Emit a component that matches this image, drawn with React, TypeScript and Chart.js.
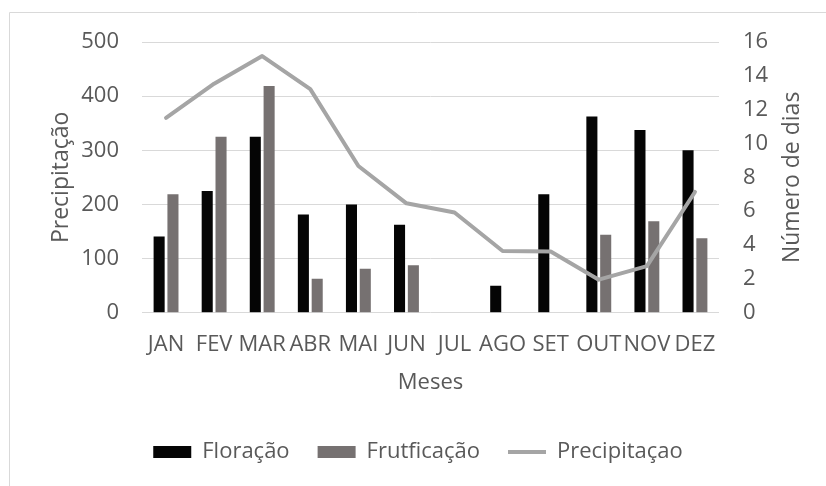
import React, { useEffect, useRef } from "react";
import { Chart, registerables } from "chart.js";

Chart.register(...registerables);

// ---- data ----
const months = ["JAN", "FEV", "MAR", "ABR", "MAI", "JUN", "JUL", "AGO", "SET", "OUT", "NOV", "DEZ"];
// número de dias (eixo direito)
const floracao = [4.5, 7.2, 10.4, 5.8, 6.4, 5.2, 0, 1.6, 7.0, 11.6, 10.8, 9.6];
const frutificacao = [7.0, 10.4, 13.4, 2.0, 2.6, 2.8, 0, 0, 0, 4.6, 5.4, 4.4];
// precipitação (eixo esquerdo)
const precipitacao = [360, 423, 474, 413, 271, 202, 185, 114, 113, 61, 86, 223];

const leftMin = 0;
const leftMax = 500;
const leftStep = 100;
const rightMin = 0;
const rightMax = 16;
const rightStep = 2;

const seriesNames = ["Floração", "Frutficação", "Precipitaçao"];
const leftTitle = "Precipitação";
const rightTitle = "Número de dias";
const xTitle = "Meses";

// ---- style ----
const FONT = "'Open Sans', sans-serif";
const TEXT = "#595959";
const GRID = "#d9d9d9";
const BLACK = "#050505";
const GRAY = "#767171";
const LINE = "#a5a5a5";

const frame = {
  id: "frame",
  beforeDraw(chart: any) {
    const ctx = chart.ctx;
    ctx.save();
    ctx.strokeStyle = GRID;
    ctx.lineWidth = 1;
    ctx.beginPath();
    ctx.moveTo(9.5, chart.height);
    ctx.lineTo(9.5, 12.5);
    ctx.lineTo(chart.width, 12.5);
    ctx.stroke();
    ctx.restore();
  },
  afterDraw(chart: any) {
    const s = chart.scales.y1;
    const ctx = chart.ctx;
    ctx.save();
    ctx.fillStyle = TEXT;
    ctx.font = `23px ${FONT}`;
    ctx.textAlign = "center";
    ctx.textBaseline = "middle";
    ctx.translate(792, (s.top + s.bottom) / 2);
    ctx.rotate(-Math.PI / 2);
    ctx.fillText(rightTitle, 0, 0);
    ctx.restore();
  },
};

export default function App() {
  const ref = useRef<HTMLCanvasElement | null>(null);

  useEffect(() => {
    if (!ref.current) return;
    const chart = new Chart(ref.current, {
      type: "bar",
      data: {
        labels: months,
        datasets: [
          {
            type: "bar",
            label: seriesNames[0],
            data: floracao,
            backgroundColor: BLACK,
            borderWidth: 0,
            yAxisID: "y1",
            order: 2,
            categoryPercentage: 0.575,
            barPercentage: 0.8,
          },
          {
            type: "bar",
            label: seriesNames[1],
            data: frutificacao,
            backgroundColor: GRAY,
            borderWidth: 0,
            yAxisID: "y1",
            order: 2,
            categoryPercentage: 0.575,
            barPercentage: 0.8,
          },
          {
            type: "line",
            label: seriesNames[2],
            data: precipitacao,
            borderColor: LINE,
            backgroundColor: LINE,
            borderWidth: 4,
            pointRadius: 0,
            tension: 0,
            borderJoinStyle: "round",
            borderCapStyle: "round",
            yAxisID: "y",
            order: 1,
          } as any,
        ],
      },
      options: {
        responsive: false,
        animation: false,
        devicePixelRatio: 1,
        layout: { padding: { left: 10, right: 0, top: 42, bottom: 13 } },
        plugins: {
          tooltip: { enabled: false },
          legend: {
            position: "bottom",
            labels: {
              color: TEXT,
              font: { family: FONT, size: 22 },
              usePointStyle: true,
              pointStyleWidth: 38,
              boxHeight: 12,
              padding: 28,
              sort: (a: any, b: any) => a.datasetIndex - b.datasetIndex,
              generateLabels: (c: any) => {
                const items = (Chart.defaults.plugins.legend.labels as any).generateLabels(c);
                items.forEach((it: any) => {
                  if (it.datasetIndex === 2) {
                    it.pointStyle = "line";
                    it.lineWidth = 4;
                    it.strokeStyle = LINE;
                    it.fillStyle = LINE;
                  } else {
                    it.pointStyle = "rect";
                    it.lineWidth = 0;
                  }
                  it.fontColor = TEXT;
                });
                return items;
              },
            },
          },
        },
        scales: {
          x: {
            grid: { display: false },
            border: { display: false },
            ticks: {
              color: TEXT,
              font: { family: FONT, size: 22 },
              padding: 11,
              maxRotation: 0,
              autoSkip: false,
            },
            title: {
              display: true,
              text: xTitle,
              color: TEXT,
              font: { family: FONT, size: 22 },
              padding: { top: 0, bottom: 17 },
            },
            afterFit: (s: any) => {
              s.height = 100.3;
            },
          },
          y: {
            position: "left",
            min: leftMin,
            max: leftMax,
            grid: { color: GRID, lineWidth: 1, drawTicks: false },
            border: { display: false },
            ticks: {
              stepSize: leftStep,
              color: TEXT,
              font: { family: FONT, size: 22 },
              padding: 23,
            },
            title: {
              display: true,
              text: leftTitle,
              color: TEXT,
              font: { family: FONT, size: 23 },
              padding: { top: 38, bottom: 0 },
            },
            afterFit: (s: any) => {
              s.width = 132;
            },
          },
          y1: {
            position: "right",
            min: rightMin,
            max: rightMax,
            grid: { drawOnChartArea: false, drawTicks: false },
            border: { display: false },
            ticks: {
              stepSize: rightStep,
              color: TEXT,
              font: { family: FONT, size: 22 },
              padding: 24,
            },
            afterFit: (s: any) => {
              s.width = 107;
            },
          },
        },
      },
      plugins: [frame],
    });
    return () => chart.destroy();
  }, []);

  return (
    <div style={{ position: "fixed", left: 0, top: 0, width: 826, height: 486, background: "#fff" }}>
      <canvas ref={ref} width={826} height={486} style={{ display: "block" }} />
    </div>
  );
}
